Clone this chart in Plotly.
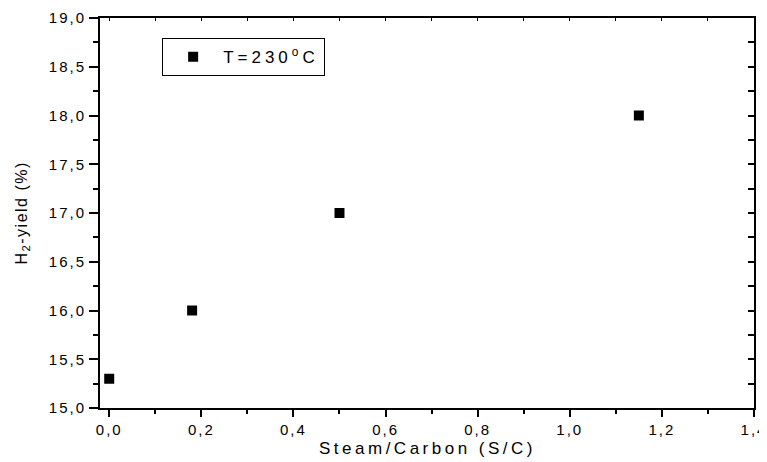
import plotly.graph_objects as go

sc_ratio = [0.0, 0.18, 0.50, 1.15]
h2_yield = [15.3, 16.0, 17.0, 18.0]
series_name = "T=230<sup>o</sup>C"
x_title = "Steam/Carbon (S/C)"
y_title = "H<sub>2</sub>-yield (%)"
x_tickvals = [0.0, 0.2, 0.4, 0.6, 0.8, 1.0, 1.2, 1.4]
x_ticktext = ["0,0", "0,2", "0,4", "0,6", "0,8", "1,0", "1,2", "1,4"]
y_tickvals = [15.0, 15.5, 16.0, 16.5, 17.0, 17.5, 18.0, 18.5, 19.0]
y_ticktext = ["15,0", "15,5", "16,0", "16,5", "17,0", "17,5", "18,0", "18,5", "19,0"]

FONT = "Liberation Sans, Arial, sans-serif"


def spaced(t, px):
    return "<span style='letter-spacing:%spx'>%s</span>" % (px, t)


fig = go.Figure()
fig.add_trace(go.Scatter(
    x=sc_ratio, y=h2_yield, mode="markers", name=spaced(series_name, 4),
    marker=dict(symbol="square", size=10, color="black"),
))
# helper trace so the mirrored (top/right) axes with inward ticks are drawn
fig.add_trace(go.Scatter(
    x=[sc_ratio[0]], y=[h2_yield[0]], xaxis="x2", yaxis="y2", mode="markers",
    marker=dict(opacity=0), showlegend=False, hoverinfo="skip",
))

xr = [-0.02, 1.4]
yr = [15.0, 19.0]

fig.update_layout(
    width=759, height=454,
    margin=dict(l=92, r=13, t=10, b=54),
    paper_bgcolor="white", plot_bgcolor="white",
    font=dict(family=FONT, size=15, color="black"),
    showlegend=True,
    legend=dict(
        x=0.095, y=0.948, xanchor="left", yanchor="top",
        bordercolor="black", borderwidth=1, bgcolor="white",
        font=dict(size=17), itemwidth=50,
    ),
    xaxis=dict(
        range=xr, tickmode="array", tickvals=x_tickvals,
        ticktext=[spaced(t, 2) for t in x_ticktext],
        ticklabeloverflow="allow", automargin=False,
        showgrid=False, zeroline=False,
        showline=True, linecolor="black", linewidth=2, mirror=True,
        ticks="outside", ticklen=7, tickwidth=2, tickcolor="black",
        minor=dict(dtick=0.1, tick0=0, ticks="outside", ticklen=4, tickwidth=2, tickcolor="black"),
        tickfont=dict(size=15),
    ),
    yaxis=dict(
        range=yr, tickmode="array", tickvals=y_tickvals,
        ticktext=[spaced(t, 2) for t in y_ticktext],
        automargin=False,
        showgrid=False, zeroline=False,
        showline=True, linecolor="black", linewidth=2, mirror=True,
        ticks="outside", ticklen=9, tickwidth=2, tickcolor="black",
        minor=dict(dtick=0.25, tick0=15, ticks="outside", ticklen=5, tickwidth=2, tickcolor="black"),
        tickfont=dict(size=15),
    ),
    xaxis2=dict(
        range=xr, overlaying="x", side="top", dtick=0.1, tick0=0, automargin=False,
        showticklabels=False, showgrid=False, zeroline=False, showline=False,
        ticks="inside", ticklen=3, tickwidth=1, tickcolor="black",
    ),
    yaxis2=dict(
        range=yr, overlaying="y", side="right", dtick=0.25, tick0=15, automargin=False,
        showticklabels=False, showgrid=False, zeroline=False, showline=False,
        ticks="inside", ticklen=6, tickwidth=2, tickcolor="black",
    ),
    annotations=[
        dict(text=spaced(x_title, 3.5), xref="paper", yref="paper", x=0.5, y=-0.075,
             xanchor="center", yanchor="top", showarrow=False,
             font=dict(size=17)),
        dict(text=spaced(y_title, 1.5), xref="paper", yref="paper", x=-0.12, y=0.5,
             xanchor="center", yanchor="middle", showarrow=False, textangle=-90,
             font=dict(size=16)),
    ],
)

fig.write_html("out.html")
